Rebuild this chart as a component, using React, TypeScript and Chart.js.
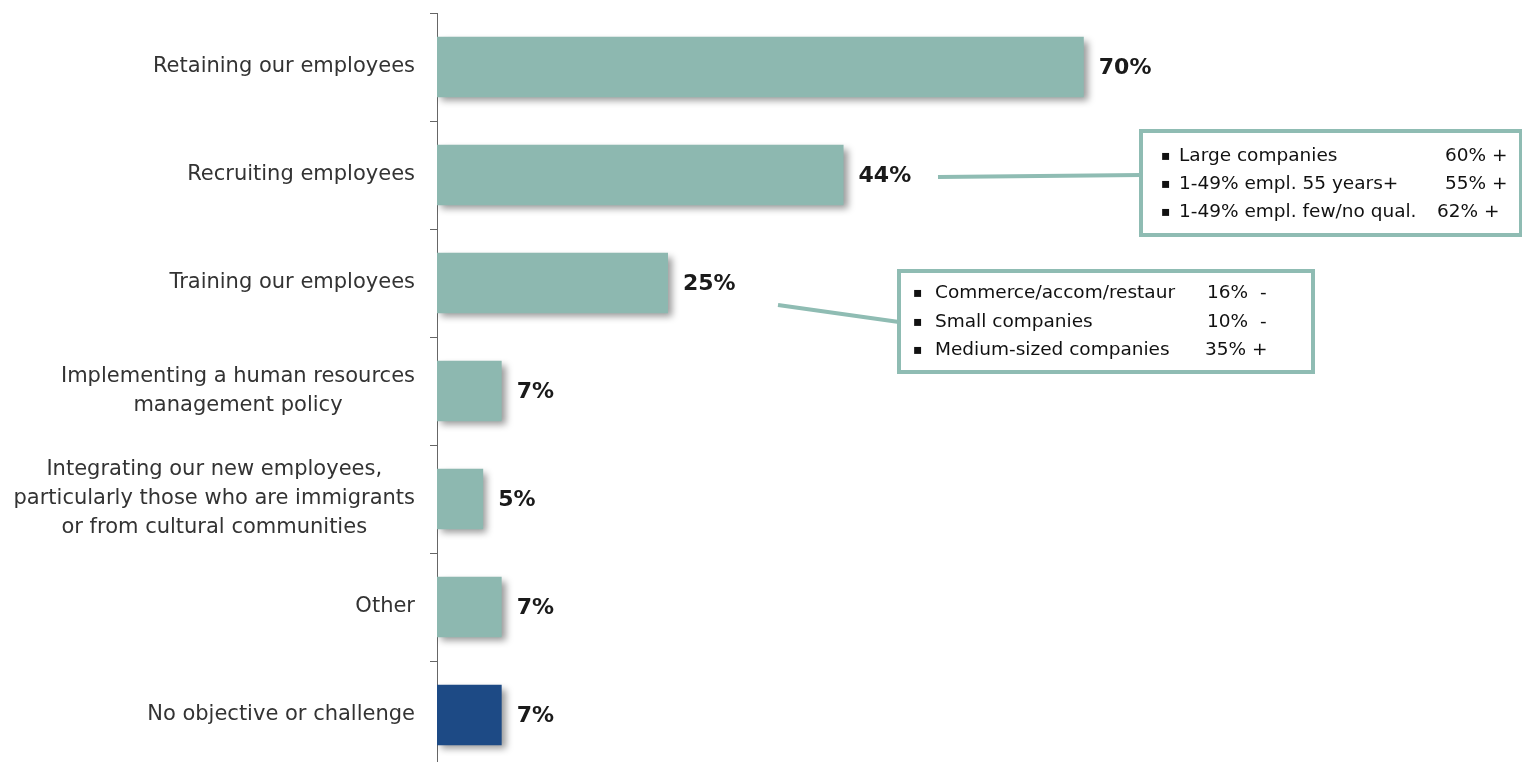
import React, { useEffect, useRef } from 'react';
import { Chart, registerables } from 'chart.js';

Chart.register(...registerables);

const categories: string[][] = [
  ['Retaining our employees'],
  ['Recruiting employees'],
  ['Training our employees'],
  ['Implementing a human resources', 'management policy'],
  ['Integrating our new employees,', 'particularly those who are immigrants', 'or from cultural communities'],
  ['Other'],
  ['No objective or challenge'],
];
const values: number[] = [70, 44, 25, 7, 5, 7, 7];
const valueLabels: string[] = values.map((v) => `${v}%`);
const barColors: string[] = ['#8db8b0', '#8db8b0', '#8db8b0', '#8db8b0', '#8db8b0', '#8db8b0', '#1d4a85'];

const recruitNotes: string[] = ['Large companies', '1-49% empl. 55 years+', '1-49% empl. few/no qual.'];
const recruitNoteValues: string[] = ['60% +', '55% +', '62% +'];
const trainingNotes: string[] = ['Commerce/accom/restaur', 'Small companies', 'Medium-sized companies'];
const trainingNoteValues: string[] = ['16%  -', '10%  -', '35% +'];

const TEAL = '#8fbcb3';

const overlayPlugin = {
  id: 'overlay',
  beforeDatasetDraw(chart: any) {
    const ctx = chart.ctx;
    ctx.save();
    ctx.shadowColor = 'rgba(0,0,0,0.4)';
    ctx.shadowBlur = 7;
    ctx.shadowOffsetX = 4;
    ctx.shadowOffsetY = 4;
  },
  afterDatasetDraw(chart: any) {
    chart.ctx.restore();
  },
  afterDraw(chart: any) {
    const ctx = chart.ctx;
    const yScale = chart.scales.y;
    const meta = chart.getDatasetMeta(0);
    ctx.save();
    // category labels
    ctx.font = '21px "DejaVu Sans"';
    ctx.fillStyle = '#333333';
    ctx.textAlign = 'center';
    ctx.textBaseline = 'middle';
    const lh = 29;
    categories.forEach((lines, i) => {
      const y = yScale.getPixelForValue(i);
      const w = Math.max(...lines.map((l) => ctx.measureText(l).width));
      const cx = 415 - w / 2;
      const y0 = y - ((lines.length - 1) * lh) / 2;
      lines.forEach((l, k) => ctx.fillText(l, cx, y0 + k * lh));
    });
    // value labels
    ctx.font = 'bold 22px "DejaVu Sans"';
    ctx.fillStyle = '#1a1a1a';
    ctx.textAlign = 'left';
    meta.data.forEach((bar: any, i: number) => {
      ctx.fillText(valueLabels[i], bar.x + 15, bar.y + 1);
    });
    // callouts
    ctx.strokeStyle = TEAL;
    ctx.lineWidth = 4;
    ctx.beginPath();
    ctx.moveTo(938, 177);
    ctx.lineTo(1141, 175);
    ctx.moveTo(778, 305);
    ctx.lineTo(899, 322);
    ctx.stroke();
    ctx.fillStyle = '#ffffff';
    ctx.fillRect(1141, 131, 380, 104);
    ctx.fillRect(899, 271, 414, 101);
    ctx.strokeRect(1141, 131, 380, 104);
    ctx.strokeRect(899, 271, 414, 101);

    ctx.fillStyle = '#111111';
    const rows1 = [156, 184, 212];
    const vx1 = [1445, 1445, 1437];
    const rows2 = [293, 322, 350];
    const vx2 = [1207, 1207, 1205];
    ctx.font = '14px "DejaVu Sans"';
    rows1.forEach((y) => ctx.fillText('\u25AA', 1161, y));
    rows2.forEach((y) => ctx.fillText('\u25AA', 913, y));
    ctx.font = '18.5px "DejaVu Sans"';
    recruitNotes.forEach((t, k) => {
      ctx.fillText(t, 1179, rows1[k]);
      ctx.fillText(recruitNoteValues[k], vx1[k], rows1[k]);
    });
    trainingNotes.forEach((t, k) => {
      ctx.fillText(t, 935, rows2[k]);
      ctx.fillText(trainingNoteValues[k], vx2[k], rows2[k]);
    });
    ctx.restore();
  },
};

export default function App() {
  const ref = useRef<HTMLCanvasElement>(null);
  useEffect(() => {
    if (!ref.current) return;
    const chart = new Chart(ref.current, {
      type: 'bar',
      data: {
        labels: categories.map((c) => c.join(' ')),
        datasets: [
          {
            data: values,
            backgroundColor: barColors,
            borderWidth: 0,
            barPercentage: 0.56,
            categoryPercentage: 1,
          },
        ],
      },
      options: {
        indexAxis: 'y',
        animation: false,
        responsive: false,
        layout: { padding: { left: 430, right: 161, top: 13, bottom: 7 } },
        plugins: { legend: { display: false }, tooltip: { enabled: false } },
        scales: {
          x: { display: false, min: 0, max: 100 },
          y: {
            ticks: { display: false },
            grid: {
              display: true,
              offset: true,
              drawOnChartArea: false,
              drawTicks: true,
              tickLength: 7,
              color: '#666666',
            },
            border: { display: true, color: '#666666', width: 1 },
          },
        },
      },
      plugins: [overlayPlugin],
    });
    return () => chart.destroy();
  }, []);
  return (
    <div style={{ position: 'fixed', left: 0, top: 0, width: 1522, height: 762, overflow: 'hidden', background: '#fff' }}>
      <canvas ref={ref} width={1522} height={776} style={{ width: 1522, height: 776, display: 'block' }} />
    </div>
  );
}
